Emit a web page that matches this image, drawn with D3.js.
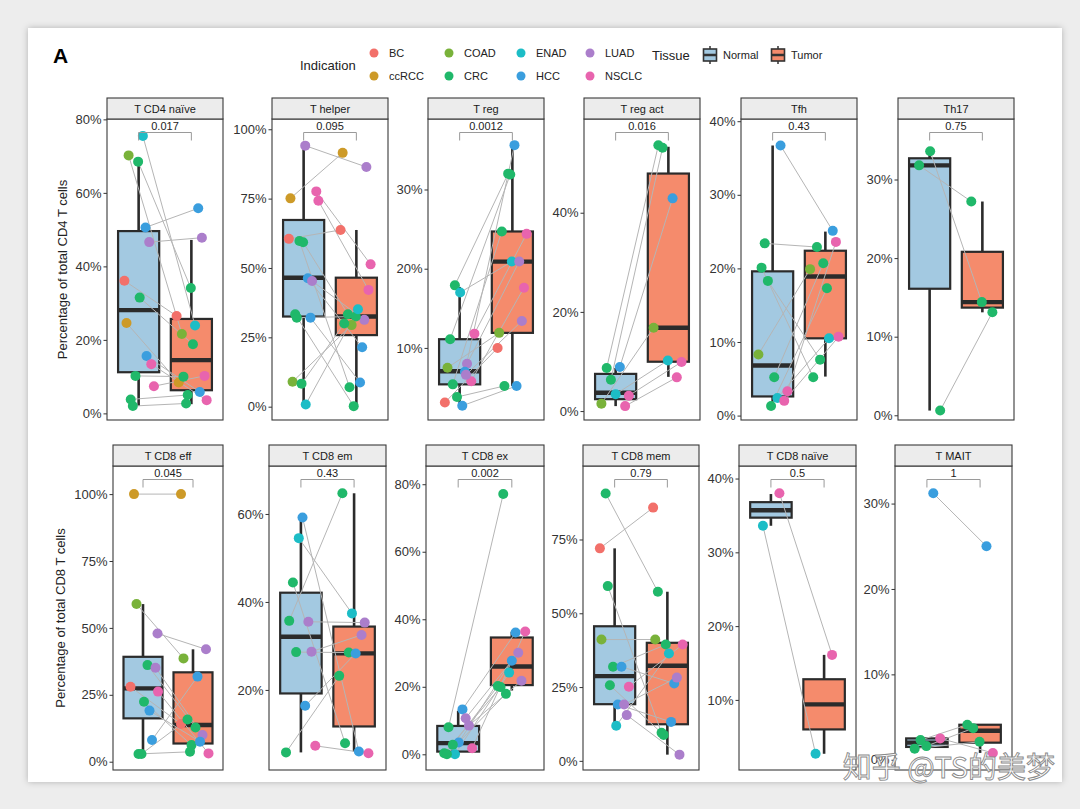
<!DOCTYPE html>
<html><head><meta charset="utf-8">
<script src="https://cdn.jsdelivr.net/npm/d3@7"></script>
<style>
body{margin:0;background:#ededed;}
svg{display:block;font-family:"Liberation Sans",Arial,Helvetica,sans-serif;}
</style>
</head><body>
<svg id="chart" width="1080" height="809"></svg>
<script>
// ---------- DATA ----------
const indications = ["BC","ccRCC","COAD","CRC","ENAD","HCC","LUAD","NSCLC"];
const indicationColors = ["#F2706A","#CD9A28","#79B23A","#20B86A","#1CBDC6","#3A9EDE","#AB7ECB","#E864AE"];
const tissues = ["Normal","Tumor"];
const tissueColors = ["#a3c9e1","#f58b6c"];

const cd4Panels = ["T CD4 naïve","T helper","T reg","T reg act","Tfh","Th17"];
const cd8Panels = ["T CD8 eff","T CD8 em","T CD8 ex","T CD8 mem","T CD8 naïve","T MAIT"];
const cd4PValues = ["0.017","0.095","0.0012","0.016","0.43","0.75"];
const cd8PValues = ["0.045","0.43","0.002","0.79","0.5","1"];

const cd4YDomains = [[-1.8,80.1],[-4.8,103.7],[0.9,38.9],[-1.8,58.9],[-0.6,40.3],[-0.6,37.7]];
const cd8YDomains = [[-3.1,110.5],[1.8,70.9],[-4.65,85.4],[-3.1,99.9],[0.5,41.7],[-1.2,34.4]];
const cd4YTicks = [[0,20,40,60,80],[0,25,50,75,100],[10,20,30],[0,20,40],[0,10,20,30,40],[0,10,20,30]];
const cd8YTicks = [[0,25,50,75,100],[20,40,60],[0,20,40,60,80],[0,25,50,75],[10,20,30,40],[0,10,20,30]];

// box stats: [lower whisker, Q1, median, Q3, upper whisker]
const cd4BoxNormal = [[2.0,11.2,28.1,49.6,67.5],[0.8,32.5,46.5,67.3,94.1],[2.6,5.4,7.05,11.1,17.7],[1.0,2.4,3.7,7.5,8.7],[1.4,2.6,6.8,19.6,36.7],[0.6,16.1,31.8,32.7,33.6]];
const cd4BoxTumor  = [[2.5,6.3,14.5,25.7,47.2],[0.6,25.8,32.5,46.5,63.7],[5.2,11.9,20.9,24.7,35.6],[6.9,9.95,16.8,47.9,53.3],[5.3,10.5,18.9,22.4,25.0],[13.1,13.7,14.4,20.8,27.2]];
const cd8BoxNormal = [[2.9,16.2,27.4,39.2,58.9],[5.8,19.2,32.1,42.1,59.2],[0,0.8,3.3,8.4,12.9],[11.9,19.2,28.7,45.6,72.0],[33.6,34.7,35.7,36.8,37.9],[1.3,1.5,2.0,2.5,2.5]];
const cd8BoxTumor  = [[3.7,6.8,13.7,33.4,42.0],[6.0,11.7,28.3,34.4,64.7],[18.9,20.5,26.0,34.6,36.3],[2.1,12.4,32.2,40.0,57.3],[2.7,6.0,9.4,12.8,16.1],[0.8,2.0,3.4,4.1,4.1]];

// paired samples: [indication, normal %, tumor %, normal jitter, tumor jitter]
const pairsCD4Naive = [
 ["ENAD",75.5,23.9,0.08,0.07],["COAD",70.2,21.6,-0.19,-0.18],["CRC",68.5,34.1,-0.01,-0.01],
 ["HCC",50.6,55.8,0.13,0.13],["LUAD",46.6,47.8,0.2,0.2],["BC",36.1,26.5,-0.27,-0.28],
 ["CRC",31.5,18.8,0.02,0.03],["ccRCC",24.6,8.4,-0.23,-0.24],["HCC",15.6,5.8,0.15,0.16],
 ["NSCLC",13.4,3.6,0.24,0.29],["CRC",10.2,10.0,-0.06,-0.15],["NSCLC",7.4,10.2,0.29,0.25],
 ["CRC",3.8,5.0,-0.15,-0.07],["CRC",2.0,2.7,-0.11,-0.1]];
const pairsTHelper = [
 ["LUAD",94.1,86.4,0.03,0.19],["ccRCC",75.1,91.5,-0.25,-0.26],["NSCLC",77.6,51.3,0.24,0.27],
 ["NSCLC",74.2,42.1,0.28,0.23],["BC",60.5,63.7,-0.28,-0.3],["CRC",59.7,7.0,-0.08,-0.13],
 ["CRC",59.3,33.3,-0.01,-0.16],["HCC",46.3,21.4,0.08,0.11],["LUAD",45.3,31.3,0.16,0.15],
 ["CRC",33.3,0.2,-0.16,-0.05],["CRC",32.1,32.5,-0.13,-0.01],["HCC",32.1,8.7,0.13,0.07],
 ["COAD",9.0,29.4,-0.21,-0.09],["CRC",8.3,30.0,-0.04,-0.23],["ENAD",0.8,35.1,0.04,0.03]];
const pairsTReg = [
 ["CRC",17.9,32.0,-0.09,-0.08],["ENAD",17.0,20.9,0.01,-0.01],["NSCLC",11.8,24.4,0.28,0.27],
 ["CRC",11.1,31.9,-0.18,-0.04],["COAD",7.5,11.9,-0.23,-0.25],["LUAD",8.0,20.9,0.14,0.13],
 ["HCC",7.0,35.6,0.1,0.04],["NSCLC",5.8,17.6,0.22,0.22],["CRC",5.4,24.7,-0.13,-0.2],
 ["CRC",3.8,5.2,-0.05,-0.15],["BC",3.1,10.0,-0.28,-0.28],["HCC",2.7,5.2,0.05,0.08],
 ["LUAD",6.6,13.4,0.12,0.18]];
const pairsTRegAct = [
 ["CRC",8.7,53.6,-0.17,-0.19],["HCC",8.9,42.9,0.08,0.08],["CRC",6.3,53.1,-0.09,-0.11],
 ["ENAD",3.4,10.2,0.0,-0.01],["NSCLC",3.1,9.9,0.25,0.25],["COAD",1.5,16.8,-0.27,-0.28],
 ["NSCLC",1.0,6.8,0.18,0.16]];
const pairsTfh = [
 ["HCC",36.7,25.1,0.15,0.14],["CRC",23.4,22.9,-0.15,-0.16],["CRC",20.1,5.2,-0.21,-0.23],
 ["CRC",18.3,7.6,-0.09,-0.1],["COAD",8.3,19.9,-0.27,-0.29],["CRC",5.2,20.7,0.03,-0.04],
 ["NSCLC",3.3,23.6,0.28,0.2],["ENAD",2.4,10.5,0.09,0.07],["NSCLC",2.0,10.7,0.22,0.25],
 ["CRC",1.3,17.3,-0.03,0.03]];
const pairsTh17 = [
 ["CRC",33.6,14.4,0.01,-0.01],["CRC",31.8,27.2,-0.2,-0.21],["CRC",0.6,13.1,0.2,0.19]];
const pairsCD8Eff = [
 ["ccRCC",100,100,-0.18,-0.24],["COAD",58.9,38.6,-0.13,-0.19],["LUAD",47.9,42.0,0.29,0.26],
 ["CRC",36.1,12.8,0.09,0.05],["LUAD",35.1,10.0,0.25,0.19],["BC",28.0,14.1,-0.25,-0.24],
 ["NSCLC",26.2,3.1,0.3,0.31],["CRC",22.4,6.2,0.02,-0.03],["HCC",19.1,7.5,0.13,0.14],
 ["HCC",8.1,31.8,0.18,0.09],["CRC",2.9,3.7,-0.09,-0.06],["CRC",2.9,15.8,-0.03,-0.11]];
const pairsCD8Em = [
 ["HCC",59.2,6.0,0.03,0.09],["ENAD",54.5,37.4,-0.04,-0.04],["CRC",44.4,7.9,-0.15,-0.17],
 ["CRC",35.7,64.7,-0.22,-0.22],["LUAD",35.5,35.3,0.14,0.2],["CRC",28.6,28.5,-0.09,-0.1],
 ["LUAD",28.7,32.5,0.2,0.14],["HCC",16.4,28.3,0.08,0.03],["NSCLC",7.3,5.6,0.27,0.27],
 ["CRC",5.8,23.2,-0.28,-0.28]];
const pairsCD8Ex = [
 ["CRC",8.0,77.1,-0.18,-0.16],["HCC",13.3,36.1,0.08,0.07],["LUAD",10.7,30.1,0.14,0.12],
 ["LUAD",8.5,21.8,0.2,0.18],["HCC",3.5,27.7,0.01,0.0],["CRC",2.8,20.2,-0.1,-0.26],
 ["NSCLC",1.8,36.4,0.26,0.25],["ENAD",0.0,24.2,-0.06,-0.05],["CRC",0.3,19.9,-0.26,-0.21],
 ["CRC",0.0,17.9,-0.21,-0.11]];
const pairsCD8Mem = [
 ["CRC",90.6,57.3,-0.17,-0.18],["BC",72.0,85.8,-0.28,-0.27],["CRC",59.2,9.5,-0.13,-0.11],
 ["COAD",41.1,41.1,-0.25,-0.23],["CRC",31.9,39.4,-0.03,-0.03],["HCC",31.9,26.2,0.13,0.13],
 ["CRC",25.6,8.8,-0.09,-0.07],["NSCLC",25.1,39.4,0.27,0.29],["HCC",19.1,13.2,0.06,0.07],
 ["LUAD",19.1,28.2,0.18,0.18],["LUAD",15.5,2.1,0.23,0.23],["ENAD",11.9,36.4,0.03,0.03]];
const pairsCD8Naive = [
 ["NSCLC",38.0,16.1,0.16,0.15],["ENAD",33.6,2.7,-0.15,-0.16]];
const pairsMAIT = [
 ["HCC",31.2,25.0,0.12,0.12],["NSCLC",2.5,0.8,0.25,0.24],["CRC",2.3,4.1,-0.12,-0.24],
 ["CRC",1.6,3.7,-0.01,-0.13],["CRC",1.3,2.1,-0.23,-0.01]];

const cd4Pairs = [pairsCD4Naive,pairsTHelper,pairsTReg,pairsTRegAct,pairsTfh,pairsTh17];
const cd8Pairs = [pairsCD8Eff,pairsCD8Em,pairsCD8Ex,pairsCD8Mem,pairsCD8Naive,pairsMAIT];

// ---------- DRAW ----------
const svg = d3.select("#chart");
const colorOf = d3.scaleOrdinal().domain(indications).range(indicationColors);
const fillOf = d3.scaleOrdinal().domain(tissues).range(tissueColors);

const defs = svg.append("defs");
const f = defs.append("filter").attr("id","shadow").attr("x","-5%").attr("y","-5%").attr("width","110%").attr("height","110%");
f.append("feDropShadow").attr("dx",0).attr("dy",0).attr("stdDeviation",3).attr("flood-color","#000").attr("flood-opacity",0.25);

svg.append("rect").attr("width",1080).attr("height",809).attr("fill","#ededed");
svg.append("rect").attr("x",28).attr("y",28).attr("width",1034).attr("height",754).attr("fill","#fff").attr("filter","url(#shadow)");

svg.append("text").attr("x",53).attr("y",63).attr("font-size",21).attr("font-weight","bold").attr("fill","#000").text("A");

// legend
const lg = svg.append("g");
lg.append("text").attr("x",300).attr("y",70).attr("font-size",13).attr("fill","#222").text("Indication");
indications.forEach((ind,i)=>{
  const col = Math.floor(i/2), row = i%2;
  const cx = [374,449,521,590][col], cy = [53,76][row];
  lg.append("circle").attr("cx",cx).attr("cy",cy).attr("r",4.5).attr("fill",colorOf(ind));
  lg.append("text").attr("x",cx+15).attr("y",cy+4).attr("font-size",11).attr("fill","#222").text(ind);
});
lg.append("text").attr("x",652).attr("y",60).attr("font-size",13).attr("fill","#222").text("Tissue");
tissues.forEach((t,i)=>{
  const kx = [702,770][i], ky = 46;
  lg.append("line").attr("x1",kx+8).attr("x2",kx+8).attr("y1",ky).attr("y2",ky+18).attr("stroke","#333").attr("stroke-width",1.5);
  lg.append("rect").attr("x",kx+1.5).attr("y",ky+3).attr("width",13).attr("height",12).attr("fill",fillOf(t)).attr("stroke","#333").attr("stroke-width",1.6);
  lg.append("line").attr("x1",kx+1.5).attr("x2",kx+14.5).attr("y1",ky+9).attr("y2",ky+9).attr("stroke","#333").attr("stroke-width",2.5);
  lg.append("text").attr("x",kx+21).attr("y",ky+13).attr("font-size",11).attr("fill","#222").text(t);
});

const rows = [
  {names:cd4Panels,p:cd4PValues,dom:cd4YDomains,ticks:cd4YTicks,bn:cd4BoxNormal,bt:cd4BoxTumor,pairs:cd4Pairs,
   lefts:[107,272,428,584,741,898],widths:[116,116,116,116,116,116],stripTop:98,top:119,bottom:420,
   title:"Percentage of total CD4 T cells",titleX:62},
  {names:cd8Panels,p:cd8PValues,dom:cd8YDomains,ticks:cd8YTicks,bn:cd8BoxNormal,bt:cd8BoxTumor,pairs:cd8Pairs,
   lefts:[113,269,426,583,739,895],widths:[110,117,118,116,117,117],stripTop:445,top:466,bottom:770,
   title:"Percentage of total CD8 T cells",titleX:60}
];

rows.forEach(row=>{
  const h = row.bottom-row.top;
  svg.append("text").attr("transform",`translate(${row.titleX},${(row.top+row.bottom)/2}) rotate(-90)`)
    .attr("text-anchor","middle").attr("dominant-baseline","central").attr("font-size",13).attr("fill","#222").text(row.title);
  row.names.forEach((name,i)=>{
    const w = row.widths[i];
    const g = svg.append("g").attr("transform",`translate(${row.lefts[i]},${row.top})`);
    const y = d3.scaleLinear().domain(row.dom[i]).range([h,0]);
    const x = d3.scalePoint().domain(tissues).range([0,w]).padding(0.6);
    const bw = x.step()*0.78;
    g.append("rect").attr("width",w).attr("height",h).attr("fill","#fff");

    // boxes
    [row.bn[i],row.bt[i]].forEach((s,k)=>{
      const t = tissues[k], cx = x(t);
      g.append("line").attr("x1",cx).attr("x2",cx).attr("y1",y(s[0])).attr("y2",y(s[1])).attr("stroke","#2b2b2b").attr("stroke-width",2.6);
      g.append("line").attr("x1",cx).attr("x2",cx).attr("y1",y(s[3])).attr("y2",y(s[4])).attr("stroke","#2b2b2b").attr("stroke-width",2.6);
      g.append("rect").attr("x",cx-bw/2).attr("y",y(s[3])).attr("width",bw).attr("height",Math.max(0,y(s[1])-y(s[3])))
        .attr("fill",fillOf(t)).attr("stroke","#2b2b2b").attr("stroke-width",2.2);
      g.append("line").attr("x1",cx-bw/2).attr("x2",cx+bw/2).attr("y1",y(s[2])).attr("y2",y(s[2])).attr("stroke","#2b2b2b").attr("stroke-width",4.4);
    });

    const pr = row.pairs[i];
    const px = (t,j)=>x(t)+j*x.step();
    // connecting lines
    g.selectAll("line.pair").data(pr.filter(d=>d[1]!=null && d[2]!=null)).join("line").attr("class","pair")
      .attr("x1",d=>px("Normal",d[3])).attr("y1",d=>y(d[1]))
      .attr("x2",d=>px("Tumor",d[4])).attr("y2",d=>y(d[2]))
      .attr("stroke","#b5b5b5").attr("stroke-width",1);
    // points
    const pts = [];
    pr.forEach(d=>{
      if(d[1]!=null) pts.push({ind:d[0],v:d[1],t:"Normal",j:d[3]});
      if(d[2]!=null) pts.push({ind:d[0],v:d[2],t:"Tumor",j:d[4]});
    });
    g.selectAll("circle").data(pts).join("circle")
      .attr("cx",d=>px(d.t,d.j)).attr("cy",d=>y(d.v)).attr("r",5)
      .attr("fill",d=>colorOf(d.ind));

    // bracket
    const by = 13.5;
    g.append("path").attr("d",`M${x("Normal")},${by+8}V${by}H${x("Tumor")}V${by+8}`)
      .attr("fill","none").attr("stroke","#9a9a9a").attr("stroke-width",1);
    g.append("text").attr("x",(x("Normal")+x("Tumor"))/2).attr("y",by-2.5).attr("text-anchor","middle")
      .attr("font-size",11).attr("fill","#222").text(row.p[i]);

    // axis
    const ax = g.append("g").call(d3.axisLeft(y).tickValues(row.ticks[i]).tickFormat(d=>d+"%").tickSize(3.5).tickPadding(2));
    ax.select(".domain").remove();
    ax.selectAll(".tick line").attr("stroke","#333").attr("stroke-width",1);
    ax.selectAll(".tick text").attr("font-size",13).attr("fill","#333").attr("font-family","Liberation Sans, Arial, sans-serif");

    // panel border
    g.append("rect").attr("width",w).attr("height",h).attr("fill","none").attr("stroke","#3a3a3a").attr("stroke-width",1.1);
    // strip
    const sg = svg.append("g").attr("transform",`translate(${row.lefts[i]},${row.stripTop})`);
    sg.append("rect").attr("width",w).attr("height",row.top-row.stripTop).attr("fill","#ececec").attr("stroke","#3a3a3a").attr("stroke-width",1.1);
    sg.append("text").attr("x",w/2).attr("y",(row.top-row.stripTop)/2+4).attr("text-anchor","middle")
      .attr("font-size",11).attr("fill","#1a1a1a").text(name);
  });
});

// watermark (overlays the plot, as in the source image)
svg.append("text").attr("x",1055).attr("y",778).attr("text-anchor","end").attr("font-size",29)
  .attr("font-family","Noto Sans CJK SC, sans-serif")
  .attr("fill","#ffffff").attr("fill-opacity",0.85).attr("stroke","#8a8a8a").attr("stroke-width",0.9)
  .text("知乎 @TS的美梦");
</script>
</body></html>
